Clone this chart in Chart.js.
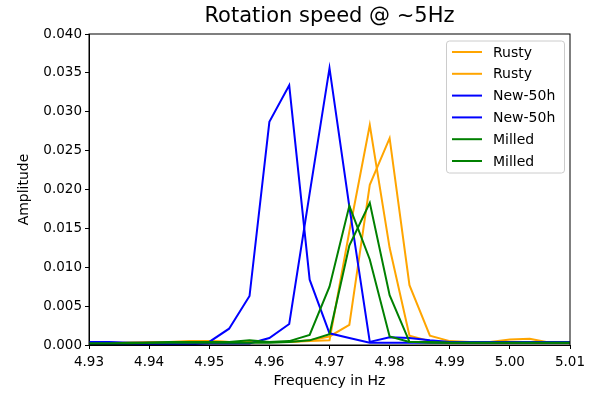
<!DOCTYPE html>
<html>
<head>
<meta charset="utf-8">
<script src="https://cdn.jsdelivr.net/npm/chart.js@4.4.1/dist/chart.umd.min.js"></script>
<style>
  html, body { margin: 0; padding: 0; background: #fff; }
  canvas { display: block; }
</style>
</head>
<body>
<canvas id="myChart" width="595" height="393"></canvas>
<script>
// frequency bins (Hz), spacing ~1/300 Hz
const freqs = [4.9300, 4.9333, 4.9367, 4.9400, 4.9433, 4.9467, 4.9500, 4.9533, 4.9567, 4.9600,
               4.9633, 4.9667, 4.9700, 4.9733, 4.9767, 4.9800, 4.9833, 4.9867, 4.9900, 4.9933,
               4.9967, 5.0000, 5.0033, 5.0067, 5.0100];

const rusty1  = [0.0003,0.0003,0.0003,0.0004,0.0004,0.0005,0.0005,0.0004,0.0004,0.0004,0.0004,0.0005,0.0006,0.0146,0.0283,0.0125,0.0012,0.0005,0.0004,0.0003,0.0003,0.0003,0.0003,0.0003,0.0003];
const rusty2  = [0.0002,0.0002,0.0003,0.0003,0.0003,0.0004,0.0005,0.0004,0.0004,0.0004,0.0004,0.0006,0.0011,0.0026,0.0206,0.0266,0.0077,0.0012,0.0005,0.0004,0.0004,0.0007,0.0008,0.0003,0.0003];
const new1    = [0.0004,0.0004,0.0003,0.0003,0.0003,0.0003,0.0004,0.0021,0.0063,0.0287,0.0334,0.0084,0.0015,0.0009,0.0003,0.0003,0.0003,0.0003,0.0003,0.0003,0.0003,0.0003,0.0003,0.0003,0.0003];
const new2    = [0.0001,0.0001,0.0001,0.0001,0.0001,0.0001,0.0002,0.0002,0.0002,0.0009,0.0027,0.0195,0.0356,0.0178,0.0004,0.0010,0.0009,0.0006,0.0004,0.0004,0.0004,0.0004,0.0004,0.0004,0.0004];
const milled1 = [0.0002,0.0002,0.0003,0.0003,0.0004,0.0004,0.0004,0.0004,0.0006,0.0004,0.0005,0.0013,0.0075,0.0179,0.0110,0.0011,0.0004,0.0004,0.0003,0.0003,0.0003,0.0003,0.0003,0.0003,0.0003];
const milled2 = [0.0002,0.0002,0.0002,0.0003,0.0003,0.0003,0.0003,0.0003,0.0003,0.0003,0.0004,0.0006,0.0014,0.0128,0.0183,0.0064,0.0004,0.0003,0.0003,0.0003,0.0003,0.0003,0.0003,0.0003,0.0003];

const seriesLabels = ['Rusty', 'Rusty', 'New-50h', 'New-50h', 'Milled', 'Milled'];
const seriesValues = [rusty1, rusty2, new1, new2, milled1, milled2];
const seriesColors = ['#FFA500', '#FFA500', '#0000FF', '#0000FF', '#008000', '#008000'];

const titleText = 'Rotation speed @ ~5Hz';
const FONT = "'DejaVu Sans', sans-serif";

function toPoints(values) {
  return values.map(function(v, i) { return { x: freqs[i], y: v }; });
}

// title, frame and legend drawn matplotlib style
const mplExtras = {
  id: 'mplExtras',
  afterDatasetsDraw: function(chart) {
    const ctx = chart.ctx;
    const a = chart.chartArea;
    ctx.save();
    // frame
    ctx.strokeStyle = '#000';
    ctx.lineWidth = 1;
    ctx.strokeRect(a.left, a.top, a.right - a.left, a.bottom - a.top);

    // title
    ctx.fillStyle = '#000';
    ctx.font = '21px ' + FONT;
    ctx.textAlign = 'center';
    ctx.textBaseline = 'middle';
    ctx.fillText(titleText, (a.left + a.right) / 2, 17);

    // legend
    const bx = 446.5, by = 41, bw = 118, bh = 132;
    ctx.beginPath();
    ctx.roundRect(bx, by, bw, bh, 3);
    ctx.fillStyle = 'rgba(255,255,255,0.8)';
    ctx.fill();
    ctx.strokeStyle = '#cccccc';
    ctx.stroke();
    ctx.font = '14px ' + FONT;
    ctx.textAlign = 'left';
    chart.data.datasets.forEach(function(ds, i) {
      const y = 52 + i * 21.8;
      ctx.beginPath();
      ctx.strokeStyle = ds.borderColor;
      ctx.lineWidth = 2;
      ctx.moveTo(452, y);
      ctx.lineTo(482, y);
      ctx.stroke();
      ctx.fillStyle = '#000';
      ctx.fillText(ds.label, 493, y + 1);
    });
    ctx.restore();
  }
};

const datasets = seriesValues.map(function(vals, i) {
  return {
    label: seriesLabels[i],
    data: toPoints(vals),
    borderColor: seriesColors[i],
    backgroundColor: seriesColors[i],
    borderWidth: 2,
    pointRadius: 0,
    tension: 0,
    fill: false,
    order: seriesValues.length - i
  };
});

let ctx = document.getElementById('myChart').getContext('2d');
let myChart = new Chart(ctx, {
  type: 'line',
  data: { datasets: datasets },
  options: {
    responsive: false,
    animation: false,
    layout: { padding: { left: 0, right: 25, top: 34, bottom: 0 } },
    plugins: {
      legend: { display: false },
      tooltip: { enabled: false },
      title: { display: false }
    },
    scales: {
      x: {
        type: 'linear',
        min: 4.93,
        max: 5.01,
        afterFit: function(scale) { scale.height = 48; },
        afterBuildTicks: function(scale) {
          scale.ticks = [4.93, 4.94, 4.95, 4.96, 4.97, 4.98, 4.99, 5.00, 5.01].map(function(v) { return { value: v }; });
        },
        ticks: {
          color: '#000',
          font: { family: FONT, size: 13.5 },
          padding: 5,
          maxRotation: 0,
          autoSkip: false,
          callback: function(v) { return Number(v).toFixed(2); }
        },
        grid: { drawOnChartArea: false, drawTicks: true, tickLength: 4, color: '#000' },
        border: { display: true, color: '#000' },
        title: {
          display: true,
          text: 'Frequency in Hz',
          color: '#000',
          font: { family: FONT, size: 14 },
          padding: { top: 0, bottom: 3 }
        }
      },
      y: {
        min: 0,
        max: 0.04,
        afterFit: function(scale) { scale.width = 89; },
        ticks: {
          stepSize: 0.005,
          color: '#000',
          font: { family: FONT, size: 13.5 },
          padding: 3,
          callback: function(v) { return Number(v).toFixed(3); }
        },
        grid: { drawOnChartArea: false, drawTicks: true, tickLength: 4, color: '#000' },
        border: { display: true, color: '#000' },
        title: {
          display: true,
          text: 'Amplitude',
          color: '#000',
          font: { family: FONT, size: 14 },
          padding: { top: 16, bottom: 0 }
        }
      }
    }
  },
  plugins: [mplExtras]
});
</script>
</body>
</html>
